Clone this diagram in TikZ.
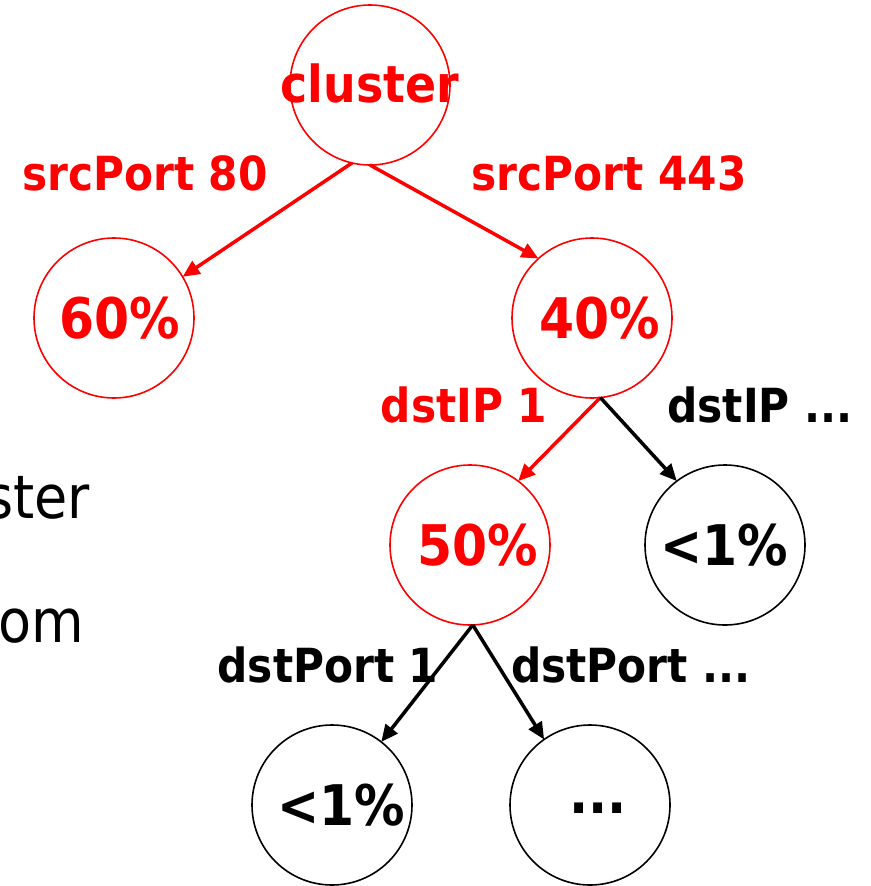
\documentclass[tikz,border=0pt]{standalone}
\usepackage{fontspec}
\setmainfont{DejaVu Sans Condensed}
\usetikzlibrary{arrows.meta}
\definecolor{hred}{RGB}{255,0,0}
\tikzset{
  circ/.style={circle, draw, line width=1.6pt, minimum size=160pt, inner sep=0pt, outer sep=0pt},
  rcirc/.style={circ, draw=hred},
  ntext/.style={font=\fontsize{56}{56}\selectfont\bfseries, inner sep=0pt},
  elab/.style={font=\fontsize{47}{47}\selectfont\bfseries, inner sep=0pt},
  arr/.style={line width=3.5pt, -{Triangle[length=17pt,width=15pt]}},
  rarr/.style={arr, draw=hred},
  bigtext/.style={font=\fontsize{60}{60}\selectfont, inner sep=0pt, anchor=base east}
}
\begin{document}
\begin{tikzpicture}[x=1pt,y=-1pt]
\useasboundingbox (0,0) rectangle (870,886);
% circles
\node[rcirc] (c) at (370,85) {};
\node[rcirc] (n60) at (114,318) {};
\node[rcirc] (n40) at (592,318) {};
\node[rcirc] (n50) at (470,545) {};
\node[circ] (r1) at (725,545) {};
\node[circ] (b1) at (332,805) {};
\node[circ] (b2) at (590,805) {};
% texts in circles
\node[ntext, text=hred, font=\fontsize{51}{51}\selectfont\bfseries] (tc) at (370,83) {cluster};
\node[ntext, text=hred] (t60) at (120,318) {60\%};
\node[ntext, text=hred] (t40) at (600,318) {40\%};
\node[ntext, text=hred] (t50) at (478,545) {50\%};
\node[ntext] (tr1) at (724,545) {<1\%};
\node[ntext] (tb1) at (341,805) {<1\%};
\node[ntext] (tb2) at (598,808) {...};
% edge labels
\node[elab, text=hred] (l1) at (145,173) {srcPort 80};
\node[elab, text=hred] (l2) at (609,173) {srcPort 443};
\node[elab, text=hred] (l3) at (464,405) {dstIP 1};
\node[elab] (l4) at (760,405) {dstIP ...};
\node[elab] (l5) at (328,665) {dstPort 1};
\node[elab] (l6) at (631,665) {dstPort ...};
% arrows
\draw[rarr] (c.257) -- (n60.31);
\draw[rarr] (c.270) -- (n40.132);
\draw[rarr] (n40.276) -- (n50.53);
\draw[arr] (n40.276) -- (r1.127);
\draw[arr] (n50.272) -- (b1.52);
\draw[arr] (n50.272) -- (b2.125);
% cut-off slide text (cut at the left edge as in the reference)
\node[bigtext] (s1) at (90,518) {ster};
\node[bigtext] (s2) at (84,642) {om};
\end{tikzpicture}
\end{document}
